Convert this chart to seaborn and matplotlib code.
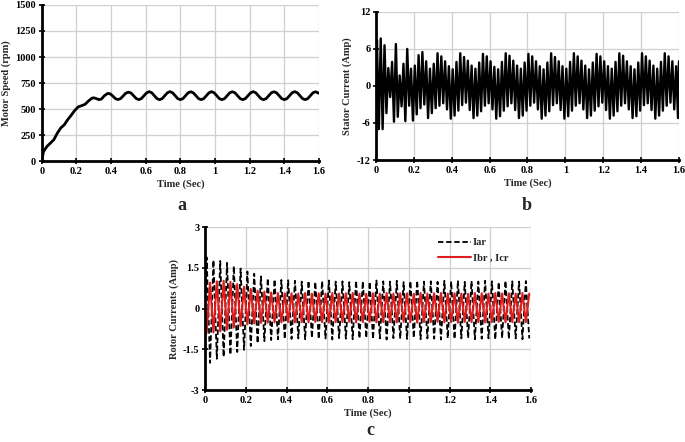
import numpy as np
import pandas as pd
import matplotlib
matplotlib.use("Agg")
import matplotlib.pyplot as plt
import seaborn as sns
from matplotlib.lines import Line2D
from matplotlib.ticker import FuncFormatter

# Data

time_ticks = [0, 0.2, 0.4, 0.6, 0.8, 1.0, 1.2, 1.4, 1.6]

# (a) motor speed: start-up part, then steady ripple sampled every 0.015 s from 0.38 s
speed_t_start = [0, 0.01, 0.03, 0.05, 0.07, 0.09, 0.11, 0.13, 0.15, 0.17, 0.19,
                 0.21, 0.23, 0.25, 0.27, 0.29, 0.30, 0.315, 0.33, 0.345, 0.36]
speed_start = [0, 90, 140, 172, 205, 268, 318, 348, 398, 440, 485,
               520, 532, 545, 578, 604, 608, 600, 590, 596, 625]
speed_steady_t0 = 0.38
speed_step = 0.015
speed_steady = [
    650, 646, 625, 600, 591, 600, 626, 652,
    662, 654, 628, 601, 590, 600, 628, 655,
    667, 656, 628, 600, 590, 600, 628, 656,
    667, 656, 628, 600, 590, 600, 628, 656,
    666, 655, 628, 600, 590, 600, 628, 656,
    667, 656, 628, 600, 590, 600, 628, 656,
    666, 656, 628, 600, 590, 600, 628, 655,
    667, 656, 628, 600, 590, 600, 628, 656,
    666, 656, 628, 600, 590, 600, 628, 656,
    667, 656, 628, 600, 590, 600, 628, 656,
    666, 655, 645,
]

# (b) stator current: one positive peak and one negative peak per 50 Hz cycle
stator_step = 0.02
stator_pos = [
    7.4, 7.7, 6.6, 2.9, 3.9, 6.8, 1.7, 3.6, 6.0, 2.8, 3.3, 5.0, 5.5, 4.0, 2.8, 3.6,
    5.3, 4.8, 4.0, 3.2, 2.7, 3.9,
    5.3, 4.7, 4.1, 3.3, 2.8, 3.8,
    5.2, 4.8, 4.0, 3.1, 2.7, 3.9,
    5.3, 4.9, 4.1, 3.3, 2.8, 3.8,
    5.2, 4.8, 4.0, 3.2, 2.7, 3.8,
    5.3, 4.7, 4.0, 3.2, 2.8, 3.9,
    5.3, 4.8, 4.1, 3.3, 2.7, 3.8,
    5.2, 4.8, 4.0, 3.2, 2.8, 3.9,
    5.3, 4.9, 4.0, 3.2, 2.7, 3.8,
    5.3, 4.8, 4.1, 3.3, 2.8, 3.9,
    5.3, 4.8, 4.0, 3.2,
]
stator_neg = [
    -7.0, -7.0, -4.4, -1.8, -5.8, -5.0, -3.3, -5.7, -3.2, -5.6, -4.6, -3.6, -3.0, -5.2, -4.4, -3.6,
    -3.2, -2.8, -3.8, -5.3, -4.8, -4.0,
    -3.1, -2.7, -3.9, -5.2, -4.8, -4.1,
    -3.2, -2.8, -3.8, -5.3, -4.9, -4.0,
    -3.3, -2.8, -3.9, -5.2, -4.8, -4.0,
    -3.2, -2.7, -3.8, -5.3, -4.8, -4.1,
    -3.1, -2.8, -3.9, -5.3, -4.9, -4.0,
    -3.2, -2.8, -3.8, -5.2, -4.8, -4.0,
    -3.3, -2.7, -3.9, -5.3, -4.8, -4.1,
    -3.2, -2.8, -3.8, -5.2, -4.9, -4.0,
    -3.1, -2.8, -3.9, -5.3, -4.8, -4.0,
    -3.2, -2.7, -3.8, -5.2,
]
stator_end = 4.0

# (c) rotor currents: peaks per slip cycle (about 30 Hz)
rotor_step = 1 / 30
iar_pos = [1.88, 1.78, 1.75, 1.68, 1.56, 1.47, 1.36, 1.28, 1.18, 1.11, 1.07, 1.05,
           1.04, 1.02, 0.99, 1.02, 0.98, 1.01, 1.03, 0.99, 1.0, 0.97, 1.02, 1.0,
           0.98, 1.03, 1.0, 0.99, 1.02, 0.97, 1.01, 1.03, 0.99, 1.0, 0.98, 1.02,
           1.0, 1.03, 0.98, 1.01, 0.99, 1.02, 1.0, 0.97, 1.02, 1.0, 0.99, 1.01]
iar_neg = [-2.0, -1.85, -1.78, -1.7, -1.6, -1.52, -1.38, -1.28, -1.2, -1.16, -1.13, -1.12,
           -1.12, -1.1, -1.13, -1.08, -1.12, -1.1, -1.14, -1.09, -1.11, -1.13, -1.1, -1.08,
           -1.12, -1.1, -1.14, -1.09, -1.11, -1.12, -1.08, -1.13, -1.1, -1.11, -1.14, -1.09,
           -1.12, -1.1, -1.08, -1.13, -1.11, -1.1, -1.14, -1.09, -1.12, -1.1, -1.13, -1.1]
ibr_pos = [0.95, 1.0, 1.02, 0.98, 0.9, 0.8, 0.72, 0.66, 0.62, 0.59, 0.57, 0.56,
           0.56, 0.55, 0.57, 0.54, 0.56, 0.55, 0.57, 0.55, 0.56, 0.57, 0.55, 0.54,
           0.56, 0.55, 0.57, 0.55, 0.56, 0.56, 0.54, 0.57, 0.55, 0.56, 0.57, 0.55,
           0.56, 0.55, 0.54, 0.57, 0.56, 0.55, 0.57, 0.55, 0.56, 0.55, 0.57, 0.55]
ibr_neg = [-0.9, -0.88, -0.84, -0.78, -0.7, -0.64, -0.58, -0.55, -0.53, -0.52, -0.51, -0.51,
           -0.5, -0.51, -0.5, -0.51, -0.49, -0.5, -0.52, -0.5, -0.5, -0.49, -0.51, -0.5,
           -0.49, -0.51, -0.5, -0.5, -0.51, -0.49, -0.5, -0.52, -0.5, -0.5, -0.49, -0.51,
           -0.5, -0.52, -0.49, -0.5, -0.5, -0.51, -0.5, -0.49, -0.51, -0.5, -0.5, -0.5]

# Build tables

speed_t = speed_t_start + list(speed_steady_t0 + speed_step * np.arange(len(speed_steady)))
df_speed = pd.DataFrame({"t": speed_t, "rpm": speed_start + speed_steady})

n_st = len(stator_pos)
st_t = [0.0]
st_v = [0.0]
for k in range(n_st):
    st_t += [0.005 + k * stator_step, 0.015 + k * stator_step]
    st_v += [stator_pos[k], stator_neg[k]]
st_t.append(1.6)
st_v.append(stator_end)
df_stator = pd.DataFrame({"t": st_t, "amp": st_v})

n_rt = len(iar_pos)
rt_t = [0.0]
iar_v = [0.0]
ibr_v = [0.0]
for k in range(n_rt):
    rt_t += [0.008 + k * rotor_step, 0.008 + (k + 0.5) * rotor_step]
    iar_v += [iar_pos[k], iar_neg[k]]
    ibr_v += [ibr_neg[k], ibr_pos[k]]
df_rotor = pd.DataFrame({"t": rt_t, "iar": iar_v, "ibr": ibr_v})

# Plot

sns.set_style("whitegrid")
plt.rcParams["font.family"] = ["Liberation Serif", "DejaVu Serif"]
plt.rcParams["font.weight"] = "bold"
plt.rcParams["axes.labelweight"] = "bold"

fig = plt.figure(figsize=(6.85, 4.42), dpi=100)

ax_a = fig.add_axes([0.0609, 0.6357, 0.4048, 0.353])
ax_b = fig.add_axes([0.5489, 0.638, 0.4423, 0.335])
ax_c = fig.add_axes([0.2993, 0.1176, 0.4759, 0.3688])


def style_axes(ax, ylim, yticks, ylabel):
    ax.set_xlim(0, 1.6)
    ax.set_ylim(*ylim)
    ax.set_xticks(time_ticks)
    ax.set_yticks(yticks)
    ax.xaxis.set_major_formatter(FuncFormatter(lambda v, p: f"{v:g}"))
    ax.yaxis.set_major_formatter(FuncFormatter(lambda v, p: f"{v:g}"))
    ax.grid(True, color="#cfcfcf", linewidth=0.9)
    for side in ["top", "right"]:
        ax.spines[side].set_visible(False)
    for side in ["left", "bottom"]:
        ax.spines[side].set_color("black")
        ax.spines[side].set_linewidth(2)
    ax.tick_params(direction="inout", length=4, width=1.2, labelsize=7.5,
                   colors="black", pad=2, left=True, bottom=True)
    ax.set_xlabel("Time (Sec)", fontsize=7.5, fontweight="bold", labelpad=3)
    ax.set_ylabel(ylabel, fontsize=7.5, fontweight="bold", labelpad=3)


sns.lineplot(data=df_speed, x="t", y="rpm", ax=ax_a, color="black", linewidth=2)
style_axes(ax_a, (0, 1500), [0, 250, 500, 750, 1000, 1250, 1500], "Motor Speed (rpm)")

sns.lineplot(data=df_stator, x="t", y="amp", ax=ax_b, color="black", linewidth=1.7)
style_axes(ax_b, (-12, 12), [-12, -6, 0, 6, 12], "Stator Current (Amp)")

sns.lineplot(data=df_rotor, x="t", y="iar", ax=ax_c, color="black",
             linewidth=1.3, linestyle=(0, (3, 1.5)))
sns.lineplot(data=df_rotor, x="t", y="ibr", ax=ax_c, color="#e01c1c", linewidth=1.5)
style_axes(ax_c, (-3, 3), [-3, -1.5, 0, 1.5, 3], "Rotor Currents (Amp)")

handles = [
    Line2D([], [], color="black", linewidth=1.3, linestyle=(0, (3, 1.5))),
    Line2D([], [], color="#e01c1c", linewidth=1.5),
]
ax_c.legend(handles, ["Iar", "Ibr , Icr"], loc="upper right",
            bbox_to_anchor=(0.96, 0.99), frameon=False,
            prop={"family": "Liberation Serif", "weight": "bold", "size": 7.5},
            handlelength=3.2, handletextpad=0.2, labelspacing=0.6)

fig.text(0.265, 0.535, "a", fontsize=13, fontweight="bold", ha="center", va="center")
fig.text(0.769, 0.535, "b", fontsize=13, fontweight="bold", ha="center", va="center")
fig.text(0.540, 0.025, "c", fontsize=13, fontweight="bold", ha="center", va="center")

plt.savefig("out.png", dpi=100)
plt.close()
